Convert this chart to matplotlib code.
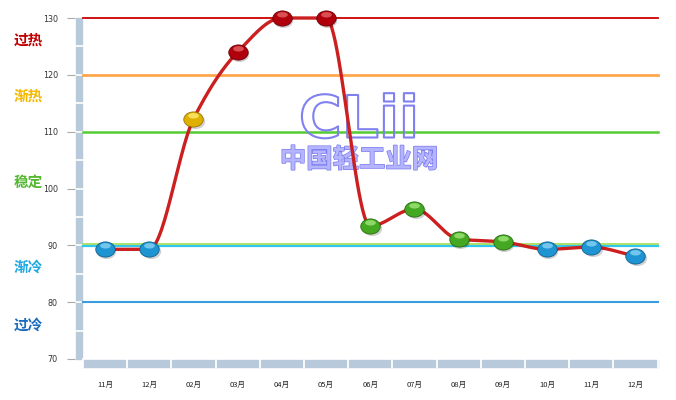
import numpy as np
import matplotlib
matplotlib.use("Agg")
import matplotlib.pyplot as plt
from matplotlib.path import Path
from matplotlib.patches import Rectangle
import matplotlib.patheffects as pe
import matplotlib.transforms as mtransforms

plt.rcParams['font.family'] = ['Noto Sans CJK SC', 'DejaVu Sans']

months = ["11月", "12月", "02月", "03月", "04月", "05月", "06月",
          "07月", "08月", "09月", "10月", "11月", "12月"]
values = [89.3, 89.3, 112.2, 124.0, 130.0, 130.0, 93.4,
          96.4, 91.1, 90.6, 89.3, 89.7, 88.1]
levels = ["cold", "cold", "warm", "hot", "hot", "hot", "stable",
          "stable", "stable", "stable", "cold", "cold", "cold"]

zone_names = ["过热", "渐热", "稳定", "渐冷", "过冷"]
zone_label_y = [126.2, 116.3, 101.1, 86.2, 76.1]
zone_colors = ["#c00000", "#f5b800", "#55b830", "#22a8e0", "#1a6cc0"]

yticks = [70, 80, 90, 100, 110, 120, 130]

marker_colors = {"cold": ("#1e94d2", "#0d5f8f", "#8fd6f7"),
                 "warm": ("#e0b000", "#9a7400", "#fff07a"),
                 "hot": ("#b0000c", "#6a0008", "#e86a6a"),
                 "stable": ("#45a822", "#256a10", "#a6ea80")}

W, H = 676, 400
fig = plt.figure(figsize=(W / 100, H / 100), dpi=100)
left_px, right_px, top_px, bot_px = 82.9, 657.5, 18, 359
ax = fig.add_axes([left_px / W, 1 - bot_px / H, (right_px - left_px) / W, (bot_px - top_px) / H])
n = len(months)
x = np.arange(n)
ax.set_xlim(-0.5, n - 0.5)
ax.set_ylim(70, 130)
for s in ax.spines.values():
    s.set_visible(False)

ytr = ax.get_yaxis_transform()
def hline(v, color, lw, dy_pt=0.0):
    tr = ytr + mtransforms.ScaledTranslation(0, dy_pt / 72, fig.dpi_scale_trans)
    ax.plot([0, 1], [v, v], color=color, lw=lw, transform=tr, zorder=2, clip_on=False)

# reference lines
hline(130, "#cc0000", 1.3)
hline(120, "#ffa64d", 2.0)
hline(110, "#55cc33", 1.8)
hline(90, "#33c6ee", 1.6, -0.8)
hline(90, "#9ddc50", 1.2, 0.7)
hline(80, "#3b9ce0", 1.5)

# axis bars
axw = right_px - left_px
axh = bot_px - top_px
bar_col = "#b9c9dc"
ax.add_patch(Rectangle((-6.5 / axw, 70), 6 / axw, 60, transform=ytr, color=bar_col, clip_on=False, zorder=1))
for v in np.arange(75, 130, 5):
    ax.plot([-7 / axw, 0], [v, v], transform=ytr, color="white", lw=1.2, clip_on=False, zorder=1.5)
xtr = ax.get_xaxis_transform()
ax.add_patch(Rectangle((-0.5, -7.5 / axh), n, 7 / axh, transform=xtr, color=bar_col, clip_on=False, zorder=1))
for b in np.arange(-0.5, n, 1.0):
    ax.plot([b, b], [-8 / axh, 0], transform=xtr, color="white", lw=1.3, clip_on=False, zorder=1.5)

# ticks
ax.spines['left'].set_position(('outward', 6))
ax.set_yticks(yticks)
ax.set_yticklabels([str(t) for t in yticks], fontsize=5.8, color="#333333", family="DejaVu Sans")
ax.tick_params(axis='y', length=6, width=0.8, color="#aaaaaa", pad=6)
ax.set_xticks(x)
ax.set_xticklabels(months, fontsize=5.5, color="#222222")
ax.tick_params(axis='x', length=0, pad=16)

# zone labels
for name, yv, c in zip(zone_names, zone_label_y, zone_colors):
    ax.text(14 / W, yv, name, transform=mtransforms.blended_transform_factory(fig.transFigure, ax.transData),
            fontsize=10.5, fontweight='bold', color=c, va='center', ha='left')

# watermark
wm_kw = dict(transform=ax.transAxes, ha='center', va='center', zorder=3)
ax.text((359 - left_px) / axw, 1 - (121 - top_px) / axh, "CLii", fontsize=42, fontweight='bold',
        family="DejaVu Sans", color="none",
        path_effects=[pe.withStroke(linewidth=1.5, foreground="#8080f0")], **wm_kw)
ax.text((359 - left_px) / axw, 1 - (160 - top_px) / axh, "中国轻工业网", fontsize=19, fontweight='bold',
        color="#b4b4ff", path_effects=[pe.withStroke(linewidth=1.0, foreground="#7a7aee")], **wm_kw)

# monotone cubic curve
def pchip(xk, yk, xs):
    xk = np.asarray(xk, float); yk = np.asarray(yk, float)
    h = np.diff(xk); d = np.diff(yk) / h
    m = np.zeros_like(yk)
    for i in range(1, len(yk) - 1):
        if d[i - 1] * d[i] > 0:
            w1 = 2 * h[i] + h[i - 1]; w2 = h[i] + 2 * h[i - 1]
            m[i] = (w1 + w2) / (w1 / d[i - 1] + w2 / d[i])
    m[0] = d[0]; m[-1] = d[-1]
    out = np.empty_like(xs)
    for j, xv in enumerate(xs):
        i = min(max(np.searchsorted(xk, xv) - 1, 0), len(xk) - 2)
        t = (xv - xk[i]) / h[i]
        h00 = 2 * t**3 - 3 * t**2 + 1; h10 = t**3 - 2 * t**2 + t
        h01 = -2 * t**3 + 3 * t**2; h11 = t**3 - t**2
        out[j] = h00 * yk[i] + h10 * h[i] * m[i] + h01 * yk[i + 1] + h11 * h[i] * m[i + 1]
    return out

xs = np.linspace(0, n - 1, 600)
ys = pchip(x, values, xs)
ax.plot(xs, ys, color="#cc1f1f", lw=2.4, zorder=4, clip_on=False, solid_capstyle='round')

# markers
ell = Path.unit_circle()
ell_path = Path(ell.vertices * np.array([1.0, 0.78]), ell.codes)
hl_scale = np.array([0.55, 0.28]); hl_off = np.array([0.0, 0.38])
hl_verts = ell.vertices * hl_scale + hl_off
hl_path = Path(hl_verts, ell.codes)
hl_max = np.max(np.abs(hl_verts))
ms = 14
shadow_tr = mtransforms.ScaledTranslation(1 / 72, -1.5 / 72, fig.dpi_scale_trans)
for xi, vi, lv in zip(x, values, levels):
    base, edge, hi = marker_colors[lv]
    ax.plot([xi], [vi], marker=ell_path, ms=ms, color="#000000", alpha=0.18, mew=0,
            transform=ax.transData + shadow_tr, zorder=5, clip_on=False, ls='none')
    ax.plot([xi], [vi], marker=ell_path, ms=ms, mfc=base, mec=edge, mew=0.6,
            zorder=6, clip_on=False, ls='none')
    ax.plot([xi], [vi], marker=hl_path, ms=ms * hl_max, mfc=hi, mec='none', alpha=0.75,
            zorder=7, clip_on=False, ls='none')

fig.savefig("out.png", dpi=100)
